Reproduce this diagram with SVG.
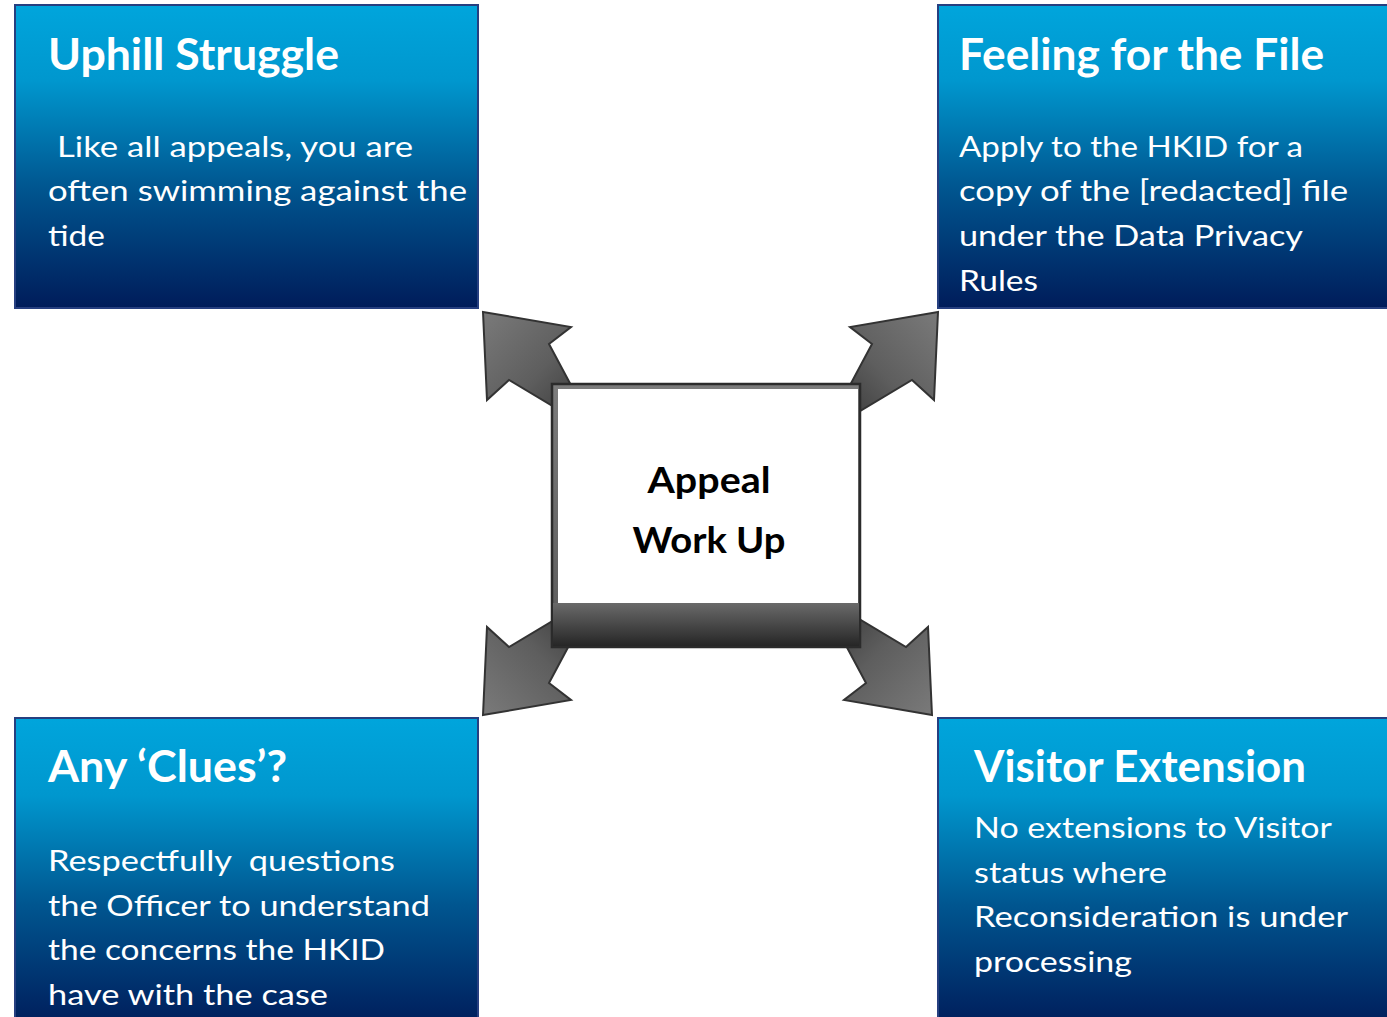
<svg xmlns="http://www.w3.org/2000/svg" width="1387" height="1017" viewBox="0 0 1387 1017">
<defs>
<linearGradient id="blue" x1="0" y1="0" x2="0" y2="1">
<stop offset="0" stop-color="#00A5DC"/>
<stop offset="0.25" stop-color="#0097CE"/>
<stop offset="0.6" stop-color="#005690"/>
<stop offset="1" stop-color="#001C5A"/>
</linearGradient>
<linearGradient id="gTL" x1="0" y1="0" x2="1" y2="1">
<stop offset="0" stop-color="#7a7a7a"/>
<stop offset="0.5" stop-color="#5e5e5e"/>
<stop offset="1" stop-color="#2e2e2e"/>
</linearGradient>
<linearGradient id="gTR" x1="1" y1="0" x2="0" y2="1">
<stop offset="0" stop-color="#7a7a7a"/>
<stop offset="0.5" stop-color="#5e5e5e"/>
<stop offset="1" stop-color="#2e2e2e"/>
</linearGradient>
<linearGradient id="gBL" x1="0" y1="1" x2="1" y2="0">
<stop offset="0" stop-color="#7a7a7a"/>
<stop offset="0.5" stop-color="#5e5e5e"/>
<stop offset="1" stop-color="#2e2e2e"/>
</linearGradient>
<linearGradient id="gBR" x1="1" y1="1" x2="0" y2="0">
<stop offset="0" stop-color="#7a7a7a"/>
<stop offset="0.5" stop-color="#5e5e5e"/>
<stop offset="1" stop-color="#2e2e2e"/>
</linearGradient>
<linearGradient id="frame" x1="0" y1="0" x2="0" y2="1">
<stop offset="0" stop-color="#7c7c7c"/>
<stop offset="1" stop-color="#5a5a5a"/>
</linearGradient>
<linearGradient id="band" x1="0" y1="0" x2="0" y2="1">
<stop offset="0" stop-color="#6a6a6a"/>
<stop offset="1" stop-color="#262626"/>
</linearGradient>
</defs>
<style>
.box{fill:url(#blue);stroke:#263f80;stroke-width:2}
.title{font-family:Lato,"Open Sans","Liberation Sans",sans-serif;font-weight:bold;font-size:43px;fill:#ffffff}
.body{font-family:Lato,"Open Sans","Liberation Sans",sans-serif;font-size:29px;fill:#ffffff}
.arrow{stroke:#333333;stroke-width:2;stroke-linejoin:miter}
.center{font-family:Lato,"Open Sans","Liberation Sans",sans-serif;font-weight:bold;font-size:36px;fill:#000000;text-anchor:middle}
</style>
<g id="connectors">
<polygon class="arrow" fill="url(#gTL)" points="483,312 571,327 549,344 596,432 509,380 487,400"/>
<polygon class="arrow" fill="url(#gTR)" points="938,312 850,327 872,344 825,432 912,380 934,400"/>
<polygon class="arrow" fill="url(#gBL)" points="483,715 571,700 549,683 596,595 509,647 487,627"/>
<polygon class="arrow" fill="url(#gBR)" points="932,715 844,700 866,683 819,595 906,647 928,627"/>
</g>
<g id="center">
<rect x="552" y="384" width="308" height="263" fill="url(#frame)" stroke="#2b2b2b" stroke-width="2.5"/>
<rect x="558" y="389" width="300" height="214" fill="#ffffff"/>
<rect x="553" y="603" width="306" height="43" fill="url(#band)"/>
<text class="center" x="709" y="493" textLength="123" lengthAdjust="spacingAndGlyphs">Appeal</text>
<text class="center" x="709" y="553" textLength="153" lengthAdjust="spacingAndGlyphs">Work Up</text>
</g>
<g id="uphill">
<rect class="box" x="15" y="5" width="463" height="303"/>
<text class="title" x="48" y="70" textLength="291" lengthAdjust="spacingAndGlyphs">Uphill Struggle</text>
<text class="body" x="57" y="157" textLength="356" lengthAdjust="spacingAndGlyphs">Like all appeals, you are</text>
<text class="body" x="48" y="201" textLength="419" lengthAdjust="spacingAndGlyphs">often swimming against the</text>
<text class="body" x="48" y="246" textLength="57" lengthAdjust="spacingAndGlyphs">tide</text>
</g>
<g id="feeling">
<rect class="box" x="938" y="5" width="460" height="303"/>
<text class="title" x="959" y="70" textLength="365" lengthAdjust="spacingAndGlyphs">Feeling for the File</text>
<text class="body" x="959" y="157" textLength="344" lengthAdjust="spacingAndGlyphs">Apply to the HKID for a</text>
<text class="body" x="959" y="201" textLength="389" lengthAdjust="spacingAndGlyphs">copy of the [redacted] file</text>
<text class="body" x="959" y="246" textLength="344" lengthAdjust="spacingAndGlyphs">under the Data Privacy</text>
<text class="body" x="959" y="291" textLength="79" lengthAdjust="spacingAndGlyphs">Rules</text>
</g>
<g id="clues">
<rect class="box" x="15" y="718" width="463" height="310"/>
<text class="title" x="48" y="782" textLength="239" lengthAdjust="spacingAndGlyphs">Any ‘Clues’?</text>
<text class="body" x="48" y="871" textLength="347" lengthAdjust="spacingAndGlyphs" xml:space="preserve">Respectfully  questions</text>
<text class="body" x="48" y="915.5" textLength="382" lengthAdjust="spacingAndGlyphs">the Officer to understand</text>
<text class="body" x="48" y="960" textLength="337" lengthAdjust="spacingAndGlyphs">the concerns the HKID</text>
<text class="body" x="48" y="1004.5" textLength="280" lengthAdjust="spacingAndGlyphs">have with the case</text>
</g>
<g id="visitor">
<rect class="box" x="938" y="718" width="460" height="310"/>
<text class="title" x="974" y="782" textLength="332" lengthAdjust="spacingAndGlyphs">Visitor Extension</text>
<text class="body" x="974" y="838" textLength="358" lengthAdjust="spacingAndGlyphs">No extensions to Visitor</text>
<text class="body" x="974" y="882.5" textLength="193" lengthAdjust="spacingAndGlyphs">status where</text>
<text class="body" x="974" y="927" textLength="374" lengthAdjust="spacingAndGlyphs">Reconsideration is under</text>
<text class="body" x="974" y="971.5" textLength="158" lengthAdjust="spacingAndGlyphs">processing</text>
</g>
</svg>
